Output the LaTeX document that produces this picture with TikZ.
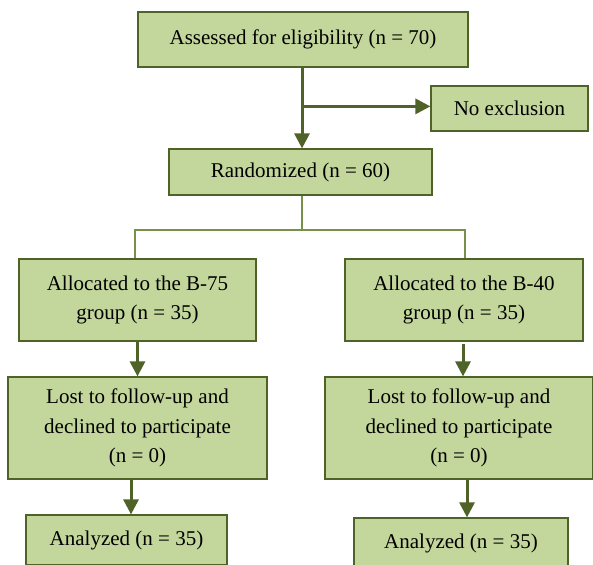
\documentclass[tikz,border=0pt]{standalone}
\usepackage{fontspec}
\setmainfont{Liberation Serif}
\usetikzlibrary{arrows.meta,calc}
\definecolor{boxfill}{HTML}{C3D69B}
\definecolor{boxline}{HTML}{4F6228}
\definecolor{arrowcol}{HTML}{4F6228}
\definecolor{thincol}{HTML}{77904A}
\tikzset{
  box/.style={draw=boxline, line width=1.2pt, fill=boxfill, inner sep=0pt, align=center,
    font=\fontsize{21}{29.5}\selectfont},
  bigarrow/.style={draw=arrowcol, line width=3pt, -{Triangle[length=15pt,width=15pt]}},
  plainline/.style={draw=arrowcol, line width=3pt},
  thinline/.style={draw=thincol, line width=1.3pt},
}
\begin{document}
\begin{tikzpicture}[x=1pt,y=-1pt]
\useasboundingbox (0,0) rectangle (593,564);
\clip (0,0) rectangle (593,564);
\node[box, minimum width=330pt, minimum height=55pt] (top) at (303,39.5) {Assessed for eligibility (n = 70)};
\node[box, minimum width=157pt, minimum height=45pt] (noex) at (509.5,108.5) {No exclusion};
\node[box, minimum width=263pt, minimum height=46pt] (rand) at (300.5,172) {Randomized (n = 60)};
\node[box, minimum width=237pt, minimum height=82pt] (allocL) at (137.5,300) {Allocated to the B-75\\group (n = 35)};
\node[box, minimum width=238pt, minimum height=82pt] (allocR) at (464,300) {Allocated to the B-40\\group (n = 35)};
\node[box, minimum width=259pt, minimum height=102pt] (lostL) at (137.5,428) {Lost to follow-up and\\declined to participate\\(n = 0)};
\node[box, minimum width=268pt, minimum height=102pt] (lostR) at (459,428) {Lost to follow-up and\\declined to participate\\(n = 0)};
\node[box, minimum width=201pt, minimum height=50pt] (anL) at (126.5,540) {Analyzed (n = 35)};
\node[box, minimum width=214pt, minimum height=50pt] (anR) at (461,543) {Analyzed (n = 35)};
% top arrows
\coordinate (br) at ($(top.south -| 302,0)!0.48!(rand.north -| 302,0)$);
\draw[bigarrow] (top.south -| br) -- (rand.north -| br);
\draw[bigarrow] (br) -- (noex.west |- br);
% split
\coordinate (sp) at (302,230);
\draw[thinline] (rand.south -| sp) -- (sp);
\draw[thinline] (allocL.north -| 135,0) |- (sp) -| (allocR.north -| 465,0);
% lower arrows
\draw[bigarrow] (allocL.south) -- (lostL.north -| allocL.south);
\draw[bigarrow] ([xshift=-1pt,yshift=-2pt]allocR.south) -- ([xshift=-1pt]allocR.south |- lostR.north);
\draw[bigarrow] ([xshift=-6.5pt]lostL.south) -- ([xshift=-6.5pt]lostL.south |- anL.north);
\draw[bigarrow] ([xshift=8pt]lostR.south) -- ([xshift=8pt]lostR.south |- anR.north);
\end{tikzpicture}
\end{document}
